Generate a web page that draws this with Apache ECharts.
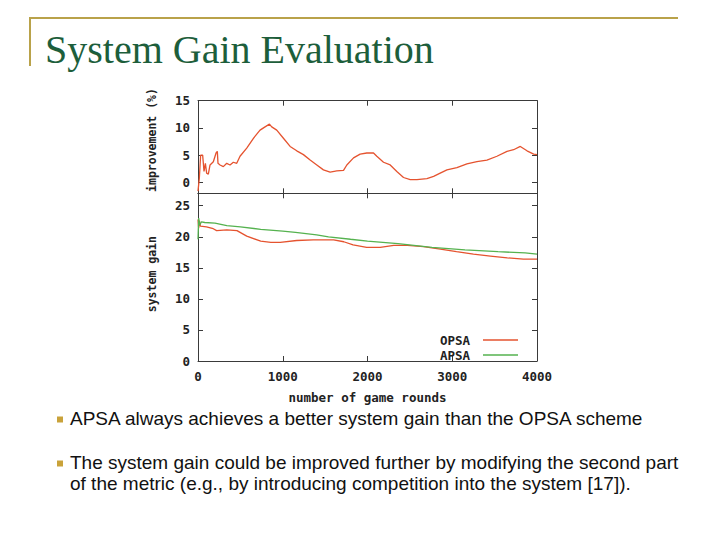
<!DOCTYPE html>
<html>
<head>
<meta charset="utf-8">
<script src="https://cdn.jsdelivr.net/npm/echarts@6/dist/echarts.min.js"></script>
<style>
html,body{margin:0;padding:0;background:#fff;}
#chart{width:720px;height:540px;}
</style>
</head>
<body>
<div id="chart"></div>
<script>
// ---- data ----
var slideTitle = 'System Gain Evaluation';
var bullets = [
  ['APSA always achieves a better system gain than the OPSA scheme'],
  ['The system gain could be improved further by modifying the second part',
   'of the metric (e.g., by introducing competition into the system [17]).']
];
var xTicks = [0, 1000, 2000, 3000, 4000];
var improvementTicks = [0, 5, 10, 15];
var gainTicks = [0, 5, 10, 15, 20, 25];

var impRounds = [0,16,31,55,71,87,102,122,142,181,213,228,236,260,299,339,378,417,457,496,575,654,732,791,843,870,929,1008,1087,1165,1244,1323,1402,1480,1559,1638,1717,1756,1835,1913,1992,2071,2110,2189,2268,2346,2425,2504,2583,2701,2780,2858,2937,3055,3173,3291,3409,3527,3646,3724,3803,3882,3961,4000];
var improvement = [-1.6,0.8,5.0,5.0,2.0,3.5,1.7,1.5,3.2,3.8,5.4,5.7,3.5,3.2,2.9,3.5,3.2,3.7,3.5,4.8,6.3,8.1,9.6,10.2,10.7,10.2,9.6,8.1,6.6,5.8,5.1,4.1,3.2,2.3,1.9,2.1,2.2,3.2,4.5,5.2,5.4,5.4,4.8,3.7,3.2,2.0,0.9,0.5,0.5,0.7,1.1,1.7,2.3,2.7,3.4,3.8,4.1,4.8,5.7,6.0,6.6,5.8,5.2,5.1];

var opsaRounds = [0,8,16,28,100,180,220,340,460,575,740,860,970,1165,1360,1600,1720,1830,1990,2150,2310,2470,2660,2860,3050,3250,3450,3650,3840,4000];
var opsaGain = [22.8,21.4,22.6,21.7,21.6,21.3,21.0,21.1,21.0,20.1,19.3,19.1,19.1,19.4,19.5,19.5,19.2,18.7,18.3,18.3,18.6,18.6,18.4,18.0,17.6,17.2,16.9,16.6,16.4,16.4];

var apsaRounds = [0,8,20,40,80,200,340,500,740,1000,1150,1400,1540,1800,2000,2360,2760,3150,3540,3860,4000];
var apsaGain = [19.6,23.0,21.9,22.4,22.3,22.2,21.8,21.6,21.2,20.9,20.7,20.3,20.0,19.6,19.3,18.9,18.3,17.9,17.6,17.4,17.2];

function zip(xs, ys){ return xs.map(function(x,i){ return [x, ys[i]]; }); }

// ---- styles ----
var RED = '#e5532f', GREEN = '#55b24f', AXIS = '#3a3a3a', GOLD = '#b9a24a';
var monoFont = 'DejaVu Sans Mono';
function plain(v){ return String(v); }

function xAx(grid, pos, showLabel, name){
  return {
    type:'value', gridIndex:grid, position:pos, min:0, max:4000, interval:1000,
    axisLine:{show:true, onZero:false, lineStyle:{color:AXIS, width:1}},
    axisTick:{show:true, inside:true, length:5, lineStyle:{color:AXIS}},
    axisLabel:{show:showLabel, margin:9, color:'#222', fontFamily:monoFont, fontWeight:'bold', fontSize:12.5,
               formatter: plain},
    splitLine:{show:false},
    name: name || '', nameLocation:'middle', nameGap:30,
    nameTextStyle:{color:'#222', fontFamily:monoFont, fontWeight:'bold', fontSize:12.5}
  };
}
function yAx(grid, pos, min, max, ticks, showLabel, name, pad){
  return {
    type:'value', gridIndex:grid, position:pos, min:min, max:max,
    axisLine:{show:true, onZero:false, lineStyle:{color:AXIS, width:1}},
    axisTick:{show:true, inside:true, length:5, lineStyle:{color:AXIS}, customValues:ticks},
    axisLabel:{show:showLabel, margin:8, color:'#222', fontFamily:monoFont, fontWeight:'bold', fontSize:12.5,
               customValues:ticks, formatter: plain},
    splitLine:{show:false},
    name: name || '', nameLocation:'middle', nameGap:40, nameRotate:90,
    nameTextStyle:{color:'#222', fontFamily:monoFont, fontWeight:'bold', fontSize:11.5, padding:pad || 0}
  };
}

var graphics = [
  {type:'line', shape:{x1:29, y1:18, x2:678, y2:18}, style:{stroke:GOLD, lineWidth:2}},
  {type:'line', shape:{x1:30, y1:17, x2:30, y2:66}, style:{stroke:GOLD, lineWidth:2}},
  {type:'text', x:45, y:49, style:{text:slideTitle, font:'40px "Liberation Serif"', fill:'#1d5e3b', verticalAlign:'middle', align:'left'}}
];
// first-line centre of each bullet paragraph
var bulletTops = [418.5, 462.5];
var LINE_STEP = 21;
bullets.forEach(function(lines, bi){
  graphics.push({type:'rect', shape:{x:57, y:bulletTops[bi]-2, width:6, height:6}, style:{fill:'#c9a23a'}});
  lines.forEach(function(t, li){
    graphics.push({type:'text', x:70, y:bulletTops[bi] + li*LINE_STEP,
      style:{text:t, font:'19px "Liberation Sans"', fill:'#111', verticalAlign:'middle', align:'left'}});
  });
});

var chart = echarts.init(document.getElementById('chart'), null, {renderer:'svg'});
chart.setOption({
  animation:false,
  backgroundColor:'#fff',
  graphic: graphics,
  grid:[
    {left:198, top:100.7, width:339, height:92.6},
    {left:198, top:193.3, width:339, height:167.7}
  ],
  xAxis:[
    xAx(0,'bottom',false), xAx(0,'top',false),
    xAx(1,'bottom',true,'number of game rounds'), xAx(1,'top',false)
  ],
  yAxis:[
    yAx(0,'left',-2,15,improvementTicks,true,'improvement (%)',[0,0,0,14]),
    yAx(0,'right',-2,15,improvementTicks,false),
    yAx(1,'left',0,27,gainTicks,true,'system gain',[0,0,0,6]),
    yAx(1,'right',0,27,gainTicks,false)
  ],
  legend:{
    data:['OPSA','APSA'], orient:'vertical', align:'right', right:197, top:327.5,
    itemWidth:35, itemHeight:1.5, itemGap:0, icon:'rect',
    textStyle:{color:'#222', fontFamily:monoFont, fontWeight:'bold', fontSize:12.5, lineHeight:15, padding:[0,8,0,0]}
  },
  series:[
    {name:'improvement', type:'line', xAxisIndex:0, yAxisIndex:0, data:zip(impRounds, improvement),
     symbol:'none', lineStyle:{color:RED, width:1.3}, itemStyle:{color:RED}},
    {name:'OPSA', type:'line', xAxisIndex:2, yAxisIndex:2, data:zip(opsaRounds, opsaGain),
     symbol:'none', lineStyle:{color:RED, width:1.3}, itemStyle:{color:RED}},
    {name:'APSA', type:'line', xAxisIndex:2, yAxisIndex:2, data:zip(apsaRounds, apsaGain),
     symbol:'none', lineStyle:{color:GREEN, width:1.3}, itemStyle:{color:GREEN}}
  ]
});
</script>
</body>
</html>
